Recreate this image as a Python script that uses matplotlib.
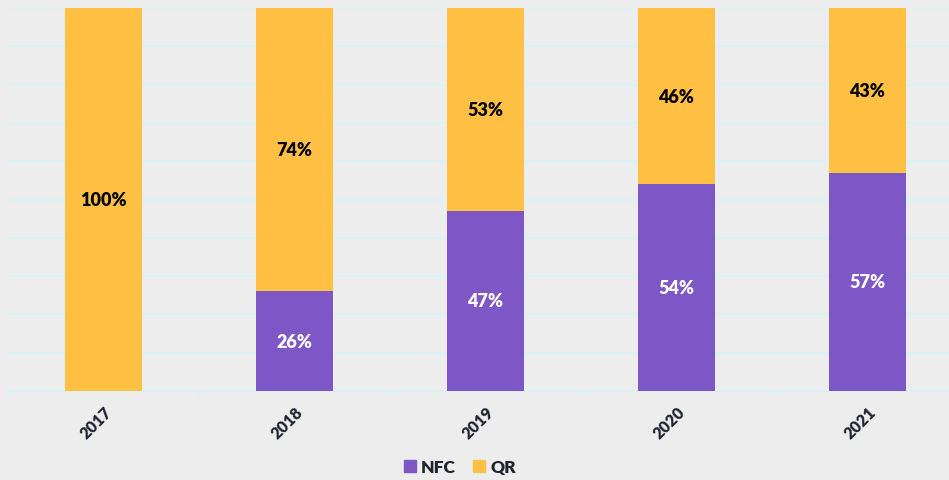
import matplotlib
matplotlib.use('Agg')
import matplotlib.pyplot as plt
import numpy as np
from matplotlib.patches import Patch

years = ['2017', '2018', '2019', '2020', '2021']
nfc = [0, 26, 47, 54, 57]
qr = [100, 74, 53, 46, 43]

bg = '#ededed'
purple = '#7e57c6'
yellow = '#ffc043'
grid_col = '#d6f3f8'
text_col = '#1f2430'

plt.rcParams['font.family'] = ['Lato', 'DejaVu Sans']

fig = plt.figure(figsize=(9.49, 4.81), dpi=100, facecolor=bg)
# axes runs slightly past the right edge, like the source
ax = fig.add_axes([8 / 949, 1 - 392 / 481, 955 / 949, 383 / 481], facecolor=bg)

x = np.arange(len(years))
ax.bar(x, nfc, width=0.4, color=purple, zorder=3)
ax.bar(x, qr, width=0.4, bottom=nfc, color=yellow, zorder=3)

for i in range(len(years)):
    if nfc[i] > 0:
        ax.text(x[i], nfc[i] / 2, f'{nfc[i]}%', ha='center', va='center',
                color='white', fontsize=13, fontweight='heavy', zorder=4)
    if qr[i] > 0:
        ax.text(x[i], nfc[i] + qr[i] / 2, f'{qr[i]}%', ha='center', va='center',
                color='black', fontsize=13, fontweight='heavy', zorder=4)

ax.set_xlim(-0.5, 4.5)
ax.set_ylim(0, 100)
ax.set_yticks(np.arange(0, 101, 10))
ax.yaxis.grid(True, color=grid_col, linewidth=1.3, zorder=0)
ax.tick_params(axis='y', left=False, labelleft=False)

ax.set_xticks(x)
ax.set_xticklabels(years, rotation=45, ha='right', rotation_mode='anchor',
                   fontsize=11.5, fontweight='heavy', color=text_col)
ax.set_xticks(np.arange(-0.5, 5, 1), minor=True)
ax.tick_params(axis='x', which='major', length=0, pad=9)
ax.tick_params(axis='x', which='minor', length=4, color=grid_col, width=1.3)

for s in ['top', 'right', 'left']:
    ax.spines[s].set_visible(False)
ax.spines['bottom'].set_color(grid_col)
ax.spines['bottom'].set_linewidth(1.3)

handles = [Patch(color=purple, label='NFC'), Patch(color=yellow, label='QR')]
fig.legend(handles=handles, loc='center', bbox_to_anchor=(460 / 949, 1 - 468 / 481),
           ncol=2, frameon=False, handlelength=0.7, handleheight=0.7,
           handletextpad=0.3, columnspacing=1.0,
           prop={'weight': 'heavy', 'size': 12.5})
for t in fig.legends[0].get_texts():
    t.set_color(text_col)

fig.savefig('out.png', dpi=100, facecolor=bg)
